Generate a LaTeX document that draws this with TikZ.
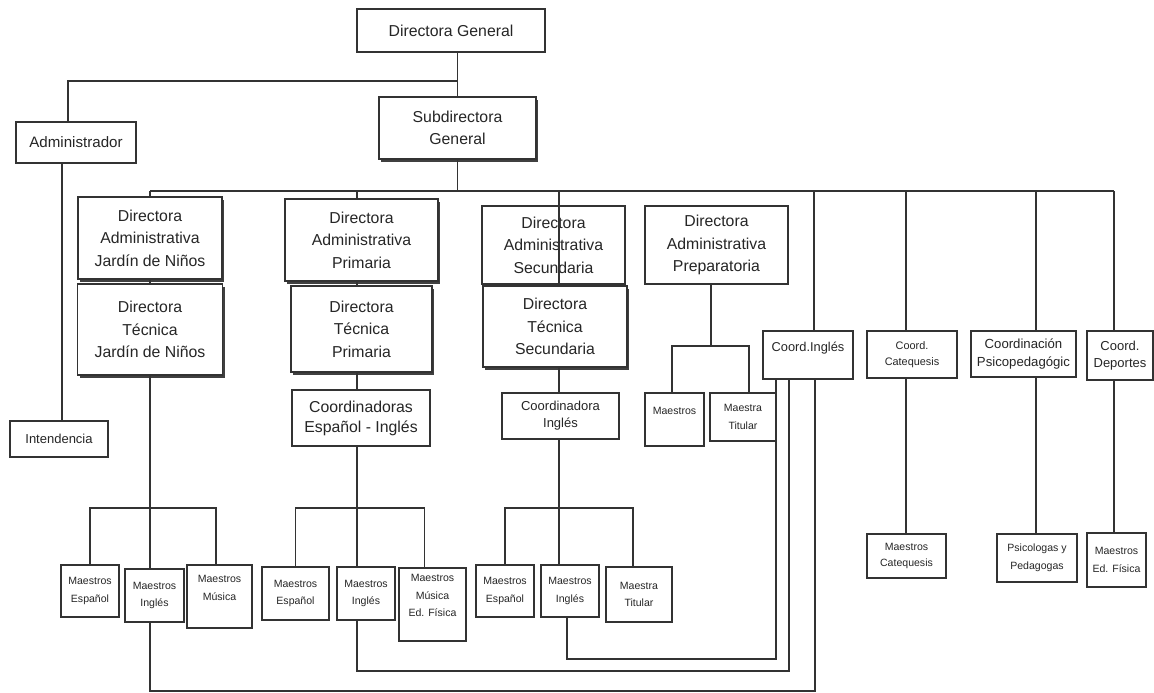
\documentclass[tikz,border=0pt]{standalone}
\usepackage{fontspec}
\setmainfont{Liberation Sans}
\usepackage{tikz}
\usetikzlibrary{shadows, calc}

\begin{document}
\begin{tikzpicture}[x=0.02cm, y=-0.02cm,
        box/.style={draw=black!80, line width=0.8pt, fill=white, align=center, inner sep=1pt, text=black!85},
        sz/.style 2 args={minimum width=#1*0.02cm, minimum height=#2*0.02cm},
        sombra/.style={drop shadow={shadow xshift=1.3pt, shadow yshift=-1.5pt, fill=black!75, opacity=1}},
        bigtxt/.style={font=\fontsize{9}{12.8}\selectfont},
        midtxt/.style={font=\fontsize{7.4}{9.6}\selectfont},
        smalltxt/.style={font=\fontsize{6}{10}\selectfont},
        conn/.style={draw=black!80, line width=0.8pt}]
        \useasboundingbox (0,0) rectangle (1154,693);

        % Direccion
        \node[box, bigtxt, sz={188}{43}] (dg) at (451,30.5) {Directora General};
        \node[box, sz={120}{41}, font=\fontsize{8.6}{11}\selectfont] (adm) at (76,142.5) {Administrador};
        \node[box, bigtxt, sombra, sz={157}{62}] (sub) at (457.5,128) {Subdirectora\\General};
        \node[box, midtxt, sz={98}{36}] (inten) at (59,439) {Intendencia};

        % Jardin de Ninos
        \node[box, bigtxt, sombra, sz={144}{82}] (daj) at (150,238) {Directora\\Administrativa\\Jardín de Niños};
        \node[box, bigtxt, sombra, sz={145}{91}] (dtj) at (150,329.5) {Directora\\Técnica\\Jardín de Niños};

        % Primaria
        \node[box, bigtxt, sombra, sz={153}{82}] (dap) at (361.5,240) {Directora\\Administrativa\\Primaria};
        \node[box, bigtxt, sombra, sz={141}{86}] (dtp) at (361.5,329) {Directora\\Técnica\\Primaria};
        \node[box, sz={138}{56}, font=\fontsize{9}{11.3}\selectfont] (cei) at (361,418) {Coordinadoras\\Español - Inglés};

        % Secundaria
        \node[box, bigtxt, sz={143}{78}] (das) at (553.5,245) {Directora\\Administrativa\\Secundaria};
        \node[box, bigtxt, sombra, sz={144}{81}] (dts) at (555,326.5) {Directora\\Técnica\\Secundaria};
        \node[box, midtxt, sz={117}{46}] (ci) at (560.5,416) {Coordinadora\\Inglés};

        % Preparatoria
        \node[box, bigtxt, sz={143}{78}] (dapr) at (716.5,245) {Directora\\Administrativa\\Preparatoria};
        \node[box, smalltxt, sz={59}{53}] (mp) at (674.5,419.5) {Maestros\\ \mbox{}};
        \node[box, smalltxt, sz={66}{48}] (mtp) at (743,417) {Maestra\\Titular};

        % Coordinaciones
        \node[box, sz={90}{48}, font=\fontsize{7.3}{9.6}\selectfont] (cing) at (808,355) {Coord.Inglés\\ \mbox{}};
        \node[box, sz={90}{47}, font=\fontsize{6.2}{9}\selectfont] (ccat) at (912,354.5) {Coord.\\Catequesis};
        \node[box, sz={105}{46}, font=\fontsize{7.5}{9.8}\selectfont] (cpsi) at (1023.5,354) {Coordinación\\Psicopedagógic};
        \node[box, midtxt, sz={66}{49}] (cdep) at (1120,355.5) {Coord.\\Deportes};
        \node[box, smalltxt, sz={79}{44}, font=\fontsize{6}{9}\selectfont] (mcat) at (906.5,556) {Maestros\\Catequesis};
        \node[box, smalltxt, sz={80}{48}] (psped) at (1037,558) {Psicologas y\\Pedagogas};
        \node[box, smalltxt, sz={59}{54}] (medf) at (1116.5,560) {Maestros\\Ed. Física};

        % Maestros
        \node[box, smalltxt, sz={58}{52}] (me1) at (90,591) {Maestros\\Español};
        \node[box, smalltxt, sz={59}{53}] (mi1) at (154.5,595.5) {Maestros\\Inglés};
        \node[box, smalltxt, sz={65}{63}] (mm1) at (219.5,596.5) {Maestros\\Música\\ \mbox{}};
        \node[box, smalltxt, sz={67}{53}] (me2) at (295.5,593.5) {Maestros\\Español};
        \node[box, smalltxt, sz={58}{53}] (mi2) at (366,593.5) {Maestros\\Inglés};
        \node[box, smalltxt, sz={67}{73}] (mm2) at (432.5,604.5) {Maestros\\Música\\Ed. Física\\ \mbox{}};
        \node[box, smalltxt, sz={58}{52}] (me3) at (505,591) {Maestros\\Español};
        \node[box, smalltxt, sz={58}{52}] (mi3) at (570,591) {Maestros\\Inglés};
        \node[box, smalltxt, sz={66}{55}] (mt3) at (639,594.5) {Maestra\\Titular};

        \coordinate (bus) at (0,191);
        \coordinate (a0) at (68,81);
        \coordinate (a1) at (62,0);
        \coordinate (c1) at (150,191);
        \coordinate (c2) at (357,191);
        \coordinate (c3) at (559,191);
        \coordinate (c3b) at (567,0);
        \coordinate (k1) at (814,191);
        \coordinate (k2) at (906,191);
        \coordinate (k3) at (1036,191);
        \coordinate (k4) at (1114,191);
        \coordinate (r1) at (0,508);
        \coordinate (r2) at (711,346);
        \coordinate (lp1) at (815,691);
        \coordinate (lp2) at (789,671);
        \coordinate (lp3) at (776,659);

        % Lineas de mando
        \draw[conn] (sub.north |- dg.south) -- (sub.north);
        \draw[conn] (sub.north |- a0) -- (a0) -- (adm.north -| a0);
        \draw[conn] (adm.south -| a1) -- (inten.north -| a1);
        \draw[conn] (sub.south) -- (sub.south |- bus);
        \draw[conn] (c1) -- (k4);

        \draw[conn] (c1) -- (c1 |- daj.north);
        \draw[conn] (daj.south -| c1) -- (dtj.north -| c1);
        \draw[conn] (dtj.south -| c1) -- (mi1.north -| c1);
        \draw[conn] (me1.north) -- (me1.north |- r1) -| ($(mm1.north)+(-3.5,0)$);

        \draw[conn] (c2) -- (c2 |- dap.north);
        \draw[conn] (dap.south -| c2) -- (dtp.north -| c2);
        \draw[conn] (dtp.south -| c2) -- (cei.north -| c2);
        \draw[conn] (cei.south -| c2) -- (mi2.north -| c2);
        \draw[conn] (me2.north) -- (me2.north |- r1) -| ($(mm2.north)+(-8,0)$);

        \draw[conn] (c3) -- (c3 |- dts.north);
        \draw[conn] (dts.south -| c3) -- (ci.north -| c3);
        \draw[conn] (ci.south -| c3) -- (mi3.north -| c3);
        \draw[conn] (me3.north) -- (me3.north |- r1) -| ($(mt3.north)+(-6,0)$);

        \draw[conn] (dapr.south -| r2) -- (r2);
        \draw[conn] ($(mp.north)+(-2.5,0)$) |- (r2) -| ($(mtp.north)+(6,0)$);

        \draw[conn] (k1) -- (k1 |- cing.north);
        \draw[conn] (k2) -- (k2 |- ccat.north);
        \draw[conn] (k2 |- ccat.south) -- (k2 |- mcat.north);
        \draw[conn] (k3) -- (k3 |- cpsi.north);
        \draw[conn] (k3 |- cpsi.south) -- (k3 |- psped.north);
        \draw[conn] (k4) -- (k4 |- cdep.north);
        \draw[conn] (k4 |- cdep.south) -- (k4 |- medf.north);

        % Maestros de ingles a Coord. Ingles
        \draw[conn] (mi1.south -| c1) -- (c1 |- lp1) -- (lp1) -- (lp1 |- cing.south);
        \draw[conn] (mi2.south -| c2) -- (c2 |- lp2) -- (lp2) -- (lp2 |- cing.south);
        \draw[conn] (mi3.south -| c3b) -- (c3b |- lp3) -- (lp3) -- (lp3 |- cing.south);

    \end{tikzpicture}
\end{document}
